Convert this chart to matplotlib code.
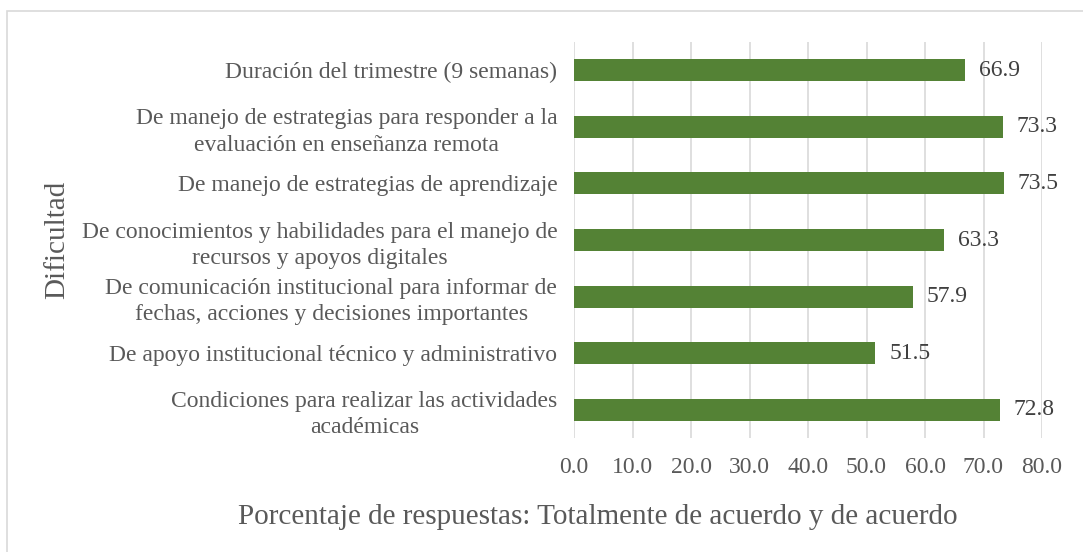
import matplotlib.pyplot as plt
from matplotlib.patches import Rectangle

# data (top to bottom as shown in chart)
categories = [
    "Duración del trimestre (9 semanas)",
    "De manejo de estrategias para responder a la\nevaluación en enseñanza remota",
    "De manejo de estrategias de aprendizaje",
    "De conocimientos y habilidades para el manejo de\nrecursos y apoyos digitales",
    "De comunicación institucional para informar de\nfechas, acciones y decisiones importantes",
    "De apoyo institucional técnico y administrativo",
    "Condiciones para realizar las actividades\nacadémicas",
]
values = [66.9, 73.3, 73.5, 63.3, 57.9, 51.5, 72.8]
x_ticks = [0, 10, 20, 30, 40, 50, 60, 70, 80]

bar_color = "#548235"
text_color = "#595959"
label_color = "#404040"
grid_color = "#d9d9d9"

plt.rcParams["font.family"] = ["Liberation Serif", "DejaVu Serif"]

fig = plt.figure(figsize=(10.83, 5.52), dpi=100)
ax = fig.add_axes([574 / 1083, 1 - 438 / 552, (1042 - 574) / 1083, (438 - 42) / 552])

# outer chart border (only top and left visible in the crop)
fig.patches.append(Rectangle((7 / 1083, -0.1), 1.2, 1 - 11 / 552 + 0.1,
                             transform=fig.transFigure, fill=False,
                             edgecolor=grid_color, linewidth=1.2))

ypos = list(range(len(categories)))
bars = ax.barh(ypos, values, height=0.39, color=bar_color, zorder=3)
ax.bar_label(bars, labels=[f"{v:.1f}" for v in values], padding=10,
             fontsize=17, color=label_color)

ax.set_ylim(len(categories) - 0.5, -0.5)
ax.set_xlim(0, 80)
ax.set_xticks(x_ticks)
ax.set_xticklabels([f"{t:.1f}" for t in x_ticks], fontsize=17, color=text_color)
ax.set_yticks(ypos)
ax.set_yticklabels(categories, fontsize=17, color=text_color)
for lab in ax.get_yticklabels():
    lab.set_multialignment("center")
    lab.set_linespacing(1.33)
ax.tick_params(axis="both", length=0)
ax.tick_params(axis="y", pad=12)
ax.tick_params(axis="x", pad=14)

ax.grid(axis="x", color=grid_color, linewidth=1.2, zorder=0)
for s in ax.spines.values():
    s.set_visible(False)

fig.text(598 / 1083, 1 - 517 / 552,
         "Porcentaje de respuestas: Totalmente de acuerdo y de acuerdo",
         fontsize=21, color=text_color, ha="center", va="center")
fig.text(57 / 1083, 1 - 240 / 552, "Dificultad", rotation=90, fontsize=21,
         color=text_color, ha="center", va="center")

fig.savefig("out.png", dpi=100)
